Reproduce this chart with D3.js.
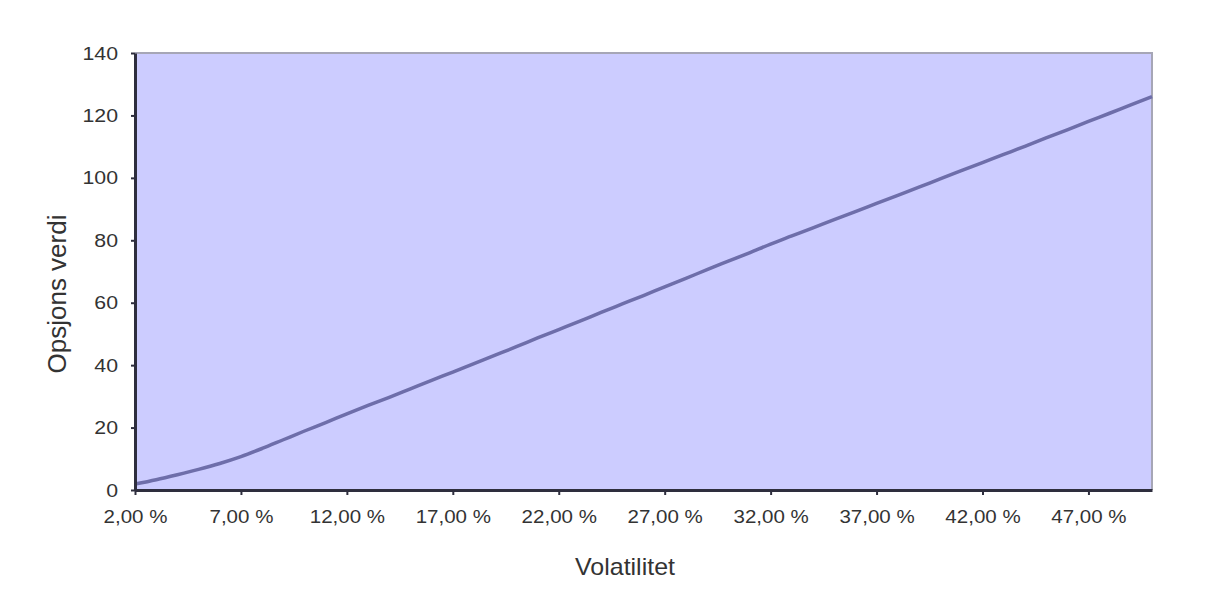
<!DOCTYPE html>
<html>
<head>
<meta charset="utf-8">
<script src="https://cdn.jsdelivr.net/npm/d3@7"></script>
<style>
  html, body { margin: 0; padding: 0; background: #fff; }
  svg { display: block; }
  text { font-family: Arial, "Liberation Sans", sans-serif; fill: #333; }
</style>
</head>
<body>
<svg id="chart" width="1216" height="601"></svg>
<script>
// Volatility (%) on the x axis
const volatility = d3.range(2, 51);
// Option value for each volatility level
const optionValue = [
  1.9, 3.3, 4.9, 6.6, 8.5, 10.7, 13.3, 16.1, 18.9, 21.6,
  24.4, 27.1, 29.7, 32.4, 35.1, 37.8, 40.5, 43.2, 45.9, 48.7,
  51.4, 54.1, 56.9, 59.6, 62.3, 65.1, 67.8, 70.6, 73.3, 76.0,
  78.8, 81.4, 84.0, 86.6, 89.2, 91.8, 94.4, 97.0, 99.7, 102.3,
  104.9, 107.5, 110.1, 112.8, 115.4, 118.1, 120.7, 123.4, 126.0
];
// Labelled category ticks and value ticks
const xTickValues = [2, 7, 12, 17, 22, 27, 32, 37, 42, 47];
const yTickValues = [0, 20, 40, 60, 80, 100, 120, 140];

const plot = { left: 135, right: 1152, top: 53, bottom: 490 };
const svg = d3.select("#chart");

const x = d3.scaleLinear().domain([2, 50]).range([plot.left, plot.right]);
const y = d3.scaleLinear().domain([0, 140]).range([plot.bottom, plot.top]);

const fmtPct = v => v.toFixed(2).replace(".", ",") + " %";

// Widen glyphs a little while keeping the text anchor in place
function widen(sel, factor) {
  sel.each(function () {
    const w = this.getComputedTextLength();
    d3.select(this).attr("textLength", w * factor).attr("lengthAdjust", "spacingAndGlyphs");
  });
}

// Plot area
svg.append("rect")
  .attr("x", plot.left).attr("y", plot.top)
  .attr("width", plot.right - plot.left).attr("height", plot.bottom - plot.top)
  .attr("fill", "#ccccff");

// Top and right frame
svg.append("path")
  .attr("d", `M${plot.left},${plot.top}H${plot.right}V${plot.bottom}`)
  .attr("fill", "none").attr("stroke", "#a6a6b6").attr("stroke-width", 2);

// Series line
svg.append("path")
  .datum(volatility.map((v, i) => [v, optionValue[i]]))
  .attr("fill", "none")
  .attr("stroke", "#6e6eaa")
  .attr("stroke-width", 3.5)
  .attr("stroke-linejoin", "round")
  .attr("d", d3.line().x(d => x(d[0])).y(d => y(d[1])).curve(d3.curveMonotoneX));

// Y axis
const yAxis = svg.append("g")
  .attr("transform", `translate(${plot.left},0)`)
  .call(d3.axisLeft(y).tickValues(yTickValues).tickSize(4).tickPadding(13).tickSizeOuter(0));
yAxis.select(".domain").attr("stroke", "#2e2e3e").attr("stroke-width", 3);
yAxis.selectAll(".tick line").attr("stroke", "#2e2e3e").attr("stroke-width", 2);
yAxis.selectAll(".tick text").attr("font-size", 19).attr("fill", "#333")
  .style("font-family", "Arial, 'Liberation Sans', sans-serif")
  .call(widen, 1.12);

// X axis
const xAxis = svg.append("g")
  .attr("transform", `translate(0,${plot.bottom})`)
  .call(d3.axisBottom(x).tickValues(xTickValues).tickFormat(fmtPct).tickSize(5).tickPadding(15).tickSizeOuter(0));
xAxis.select(".domain").attr("stroke", "#2e2e3e").attr("stroke-width", 3);
xAxis.selectAll(".tick line").attr("stroke", "#2e2e3e").attr("stroke-width", 2);
xAxis.selectAll(".tick text").attr("font-size", 18).attr("fill", "#333")
  .style("font-family", "Arial, 'Liberation Sans', sans-serif")
  .call(widen, 1.14);

// Axis titles
svg.append("text")
  .attr("x", 625).attr("y", 575)
  .attr("text-anchor", "middle")
  .attr("font-size", 24)
  .text("Volatilitet")
  .call(widen, 1.04);

svg.append("text")
  .attr("transform", "translate(66,294) rotate(-90)")
  .attr("text-anchor", "middle")
  .attr("font-size", 26)
  .text("Opsjons verdi");
</script>
</body>
</html>
